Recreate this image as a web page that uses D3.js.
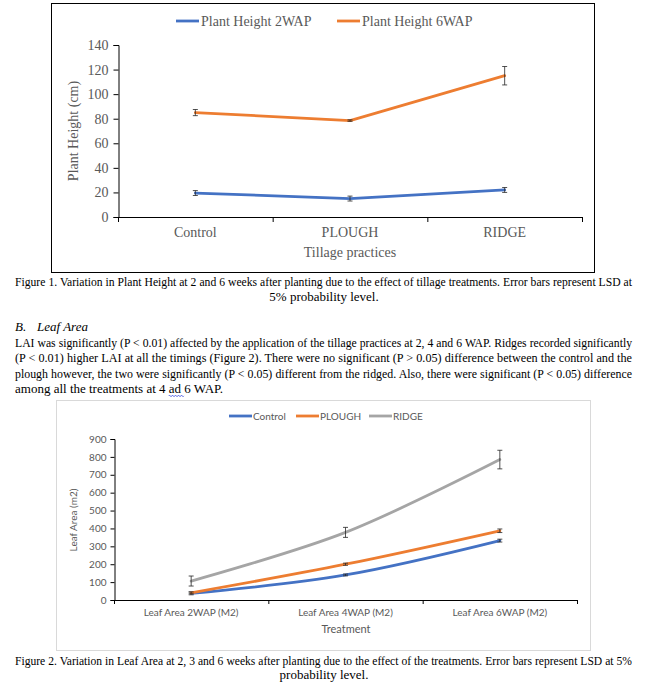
<!DOCTYPE html>
<html><head><meta charset="utf-8">
<script src="https://cdn.jsdelivr.net/npm/d3@7"></script>
<style>
html,body{margin:0;padding:0;background:#fff;}
svg{display:block;}
</style></head>
<body>
<svg id="c" width="652" height="688"></svg>
<script>
// ---------- DATA ----------
const phCategories = ["Control", "PLOUGH", "RIDGE"];
const phSeriesNames = ["Plant Height 2WAP", "Plant Height 6WAP"];
const ph2WAP = [19.5, 15, 22];
const ph2WAPErr = [2, 2, 2];
const ph6WAP = [85, 78.5, 115];
const ph6WAPErr = [2.5, 0.6, 7.5];
const phTicks = [0, 20, 40, 60, 80, 100, 120, 140];

const laCategories = ["Leaf Area 2WAP (M2)", "Leaf Area 4WAP (M2)", "Leaf Area 6WAP (M2)"];
const laSeriesNames = ["Control", "PLOUGH", "RIDGE"];
const laControl = [37, 140, 332];
const laControlErr = [8, 5, 8];
const laPlough = [40, 200, 387];
const laPloughErr = [5, 6, 10];
const laRidge = [106, 378, 785];
const laRidgeErr = [28, 28, 52];
const laTicks = [0, 100, 200, 300, 400, 500, 600, 700, 800, 900];

const caption1 = ["Figure 1. Variation in Plant Height at 2 and 6 weeks after planting due to the effect of tillage treatments. Error bars represent LSD at",
                  "5% probability level."];
const sectionHead = ["B.", "Leaf Area"];
const paragraph = [
 "LAI was significantly (P < 0.01) affected by the application of the tillage practices at 2, 4 and 6 WAP. Ridges recorded significantly",
 "(P < 0.01) higher LAI at all the timings (Figure 2). There were no significant (P > 0.05) difference between the control and the",
 "plough however, the two were significantly (P < 0.05) different from the ridged. Also, there were significant (P < 0.05) difference",
 "among all the treatments at 4 ad 6 WAP."];
const caption2 = ["Figure 2. Variation in Leaf Area at 2, 3 and 6 weeks after planting due to the effect of the treatments. Error bars represent LSD at 5%",
                  "probability level."];

// ---------- STYLE ----------
const BLUE = "#4472C4", ORANGE = "#ED7D31", GRAY = "#A5A5A5";
const SERIF = "'Liberation Serif','Times New Roman',serif";
const SANS = "Lato,'Open Sans',sans-serif";
const TXT = "#595959";

const svg = d3.select("#c");
svg.append("rect").attr("width", 652).attr("height", 688).attr("fill", "#fff");

// =============== FIGURE 1 ===============
const f1 = svg.append("g");
f1.append("rect").attr("x", 51.5).attr("y", 3.5).attr("width", 543).attr("height", 269)
  .attr("fill", "#fff").attr("stroke", "#000").attr("stroke-width", 1);

const x1 = d3.scaleBand().domain(phCategories).range([118, 582]);
const y1 = d3.scaleLinear().domain([0, 140]).range([217, 45]);

const ya1 = f1.append("g").attr("transform", "translate(118.5,0)")
  .call(d3.axisLeft(y1).tickValues(phTicks).tickSize(5).tickPadding(5));
ya1.select(".domain").attr("stroke", "#000");
ya1.selectAll(".tick line").attr("stroke", "#000");
ya1.selectAll(".tick text").attr("font-family", SERIF).attr("font-size", 14).attr("fill", TXT);

f1.append("line").attr("x1", x1.range()[0]).attr("x2", x1.range()[1])
  .attr("y1", y1(0) + 0.5).attr("y2", y1(0) + 0.5).attr("stroke", "#000");
const edges1 = phCategories.map(c => x1(c)).concat([x1.range()[1]]);
f1.selectAll(".xt").data(edges1).enter().append("line")
  .attr("x1", d => d + 0.5).attr("x2", d => d + 0.5)
  .attr("y1", y1(0)).attr("y2", y1(0) + 5).attr("stroke", "#000");
f1.selectAll(".xl").data(phCategories).enter().append("text")
  .attr("x", d => x1(d) + x1.bandwidth() / 2).attr("y", 237)
  .attr("text-anchor", "middle").attr("font-family", SERIF).attr("font-size", 14).attr("fill", TXT)
  .text(d => d);
f1.append("text").attr("x", 350).attr("y", 257).attr("text-anchor", "middle")
  .attr("font-family", SERIF).attr("font-size", 14).attr("fill", TXT).text("Tillage practices");
f1.append("text").attr("transform", "translate(78,131) rotate(-90)").attr("text-anchor", "middle")
  .attr("font-family", SERIF).attr("font-size", 14).attr("fill", TXT).text("Plant Height (cm)");

function drawSeries(g, x, y, cats, vals, errs, color, curve, width) {
  const pts = cats.map((c, i) => ({ x: x(c) + x.bandwidth() / 2, v: vals[i], e: errs[i] }));
  const line = d3.line().x(d => d.x).y(d => y(d.v)).curve(curve);
  g.append("path").attr("d", line(pts)).attr("fill", "none").attr("stroke", color)
    .attr("stroke-width", width).attr("stroke-linejoin", "round").attr("stroke-linecap", "round");
  const eb = g.append("g").attr("stroke", "#262626").attr("stroke-width", 0.8);
  pts.forEach(d => {
    eb.append("line").attr("x1", d.x).attr("x2", d.x).attr("y1", y(d.v - d.e)).attr("y2", y(d.v + d.e));
    eb.append("line").attr("x1", d.x - 2.5).attr("x2", d.x + 2.5).attr("y1", y(d.v - d.e)).attr("y2", y(d.v - d.e));
    eb.append("line").attr("x1", d.x - 2.5).attr("x2", d.x + 2.5).attr("y1", y(d.v + d.e)).attr("y2", y(d.v + d.e));
  });
}
drawSeries(f1, x1, y1, phCategories, ph2WAP, ph2WAPErr, BLUE, d3.curveLinear, 2.8);
drawSeries(f1, x1, y1, phCategories, ph6WAP, ph6WAPErr, ORANGE, d3.curveLinear, 2.8);

const leg1X = [176, 337];
phSeriesNames.forEach((n, i) => {
  f1.append("line").attr("x1", leg1X[i]).attr("x2", leg1X[i] + 23).attr("y1", 21).attr("y2", 21)
    .attr("stroke", [BLUE, ORANGE][i]).attr("stroke-width", 2.8);
  f1.append("text").attr("x", leg1X[i] + 25).attr("y", 26).attr("font-family", SERIF)
    .attr("font-size", 14).attr("fill", TXT).text(n);
});

// =============== TEXT ===============
const T = svg.append("g").attr("font-family", SERIF).attr("fill", "#000");
const BODY = 13, LEFT = 15, RIGHT = 632;
// justified line: shrink font if needed, otherwise spread with word-spacing
function justLine(str, y) {
  const t = T.append("text").attr("x", LEFT).attr("y", y).attr("font-size", BODY).text(str);
  const target = RIGHT - LEFT;
  let len = t.node().getComputedTextLength();
  if (len > target) {
    t.attr("font-size", BODY * target / len * 0.998);
    len = t.node().getComputedTextLength();
  }
  const spaces = (str.match(/ /g) || []).length;
  if (len < target && spaces) t.attr("word-spacing", ((target - len) / spaces).toFixed(3));
  return t;
}
function plainLine(str, x, y, anchor) {
  return T.append("text").attr("x", x).attr("y", y).attr("font-size", BODY)
    .attr("text-anchor", anchor || "start").text(str);
}
justLine(caption1[0], 286);
plainLine(caption1[1], 324, 301, "middle");
plainLine(sectionHead[0], 15, 331).attr("font-style", "italic");
plainLine(sectionHead[1], 37, 331).attr("font-style", "italic");
paragraph.forEach((l, i) => {
  if (i < 3) justLine(l, 347 + i * 15.3);
  else {
    const t = plainLine(l, LEFT, 347 + i * 15.3);
    const k = l.indexOf(" ad ") + 1;
    const n = t.node();
    const sx = n.getStartPositionOfChar(k).x;
    const ex = n.getEndPositionOfChar(k + 1).x;
    const yy = 347 + i * 15.3 + 3;
    let d = `M${sx},${yy}`;
    for (let xx = sx; xx < ex; xx += 3) d += ` q0.75,-1.6 1.5,0 t1.5,0`;
    svg.append("path").attr("d", d).attr("fill", "none")
      .attr("stroke", "#2f3fd8").attr("stroke-width", 0.8);
  }
});
justLine(caption2[0], 665);
plainLine(caption2[1], 324, 679, "middle");

// =============== FIGURE 2 ===============
const f2 = svg.append("g");
f2.append("rect").attr("x", 56.5).attr("y", 400.5).attr("width", 534).attr("height", 250)
  .attr("fill", "#fff").attr("stroke", "#d9d9d9").attr("stroke-width", 1);

const x2 = d3.scaleBand().domain(laCategories).range([114, 577]);
const y2 = d3.scaleLinear().domain([0, 900]).range([600, 439]);

const ya2 = f2.append("g").attr("transform", "translate(114.5,0)")
  .call(d3.axisLeft(y2).tickValues(laTicks).tickSize(4).tickPadding(4));
ya2.select(".domain").attr("stroke", "#000");
ya2.selectAll(".tick line").attr("stroke", "#000");
ya2.selectAll(".tick text").attr("font-family", SANS).attr("font-size", 10).attr("fill", TXT);

f2.append("line").attr("x1", x2.range()[0]).attr("x2", x2.range()[1])
  .attr("y1", y2(0) + 0.5).attr("y2", y2(0) + 0.5).attr("stroke", "#000");
const edges2 = laCategories.map(c => x2(c)).concat([x2.range()[1]]);
f2.selectAll(".xt").data(edges2).enter().append("line")
  .attr("x1", d => d + 0.5).attr("x2", d => d + 0.5)
  .attr("y1", y2(0)).attr("y2", y2(0) + 4).attr("stroke", "#000");
f2.selectAll(".xl").data(laCategories).enter().append("text")
  .attr("x", d => x2(d) + x2.bandwidth() / 2).attr("y", 616)
  .attr("text-anchor", "middle").attr("font-family", SANS).attr("font-size", 10).attr("fill", TXT)
  .text(d => d);
f2.append("text").attr("x", 346).attr("y", 633).attr("text-anchor", "middle")
  .attr("font-family", SANS).attr("font-size", 11).attr("fill", TXT).text("Treatment");
f2.append("text").attr("transform", "translate(77,520) rotate(-90)").attr("text-anchor", "middle")
  .attr("font-family", SANS).attr("font-size", 10).attr("fill", TXT).text("Leaf Area (m2)");

const cr = d3.curveCatmullRom.alpha(0.5);
drawSeries(f2, x2, y2, laCategories, laRidge, laRidgeErr, GRAY, cr, 2.8);
drawSeries(f2, x2, y2, laCategories, laControl, laControlErr, BLUE, cr, 2.8);
drawSeries(f2, x2, y2, laCategories, laPlough, laPloughErr, ORANGE, cr, 2.8);

const leg2X = [229, 296, 369];
laSeriesNames.forEach((n, i) => {
  f2.append("line").attr("x1", leg2X[i]).attr("x2", leg2X[i] + 23).attr("y1", 416).attr("y2", 416)
    .attr("stroke", [BLUE, ORANGE, GRAY][i]).attr("stroke-width", 2.8);
  f2.append("text").attr("x", leg2X[i] + 24).attr("y", 419.5).attr("font-family", SANS)
    .attr("font-size", 10).attr("fill", TXT).text(n);
});
</script>
</body></html>
